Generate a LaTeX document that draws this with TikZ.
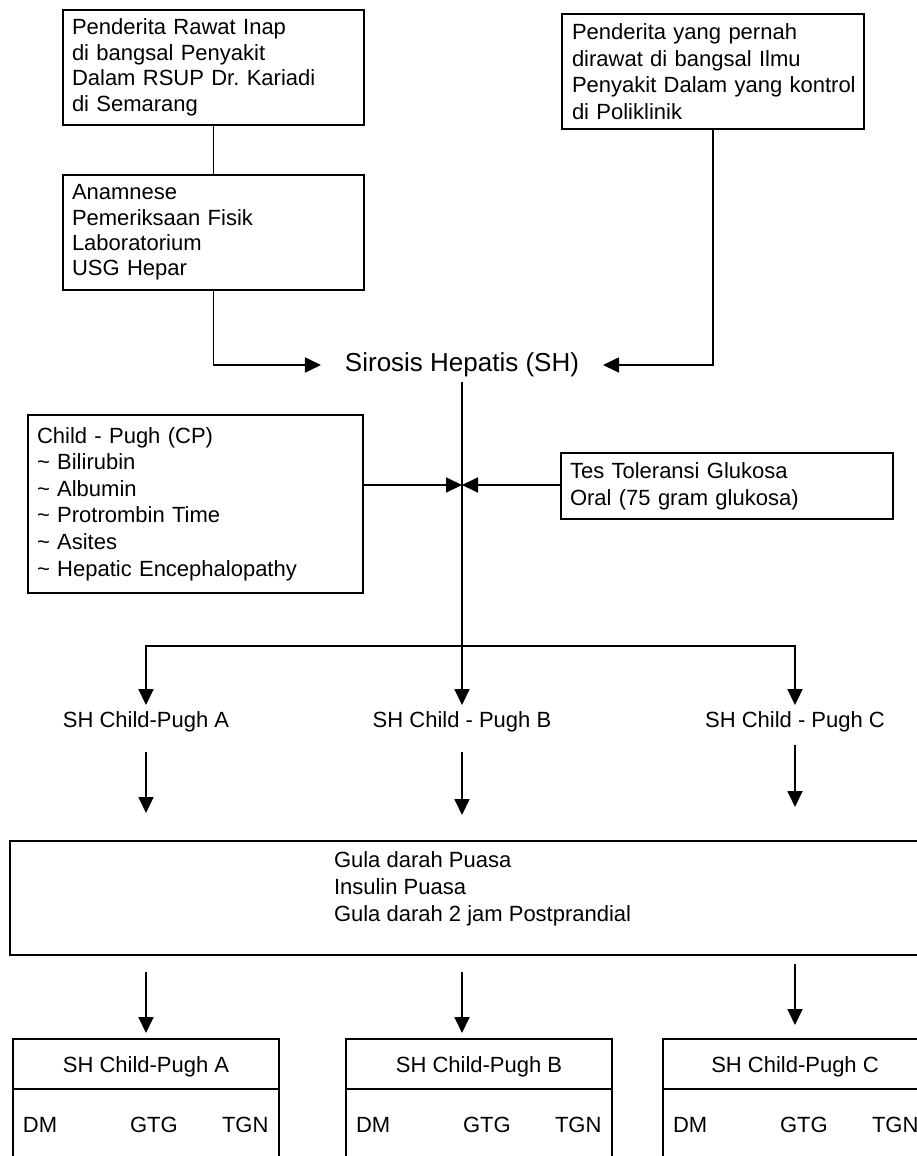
\documentclass[tikz,border=0pt]{standalone}
\usepackage{fontspec}
\setmainfont{Liberation Sans}
\usetikzlibrary{arrows.meta,calc}
\frenchspacing
\begin{document}
\begin{tikzpicture}[x=1pt,y=-1pt,line width=1.8pt,
  every node/.style={outer sep=0pt},
  txt/.style={font=\fontsize{22}{26}\selectfont},
  box/.style={draw, rectangle, anchor=north west, inner xsep=9pt, inner ysep=0pt, align=left, txt},
  frame/.style={draw, rectangle, anchor=north west, inner sep=0pt},
  arr/.style={-{Triangle[length=16pt,width=15pt]}},
  lab/.style={txt, inner sep=0pt, anchor=base},
]
\useasboundingbox (0,0) rectangle (917,1156);
\clip (0,0) rectangle (917,1156);

% --- sources of patients
\node[box, text width=283pt, minimum height=115pt, font=\fontsize{22}{25.6}\selectfont] (b1) at (63,10)
  {Penderita Rawat Inap\\ di bangsal Penyakit\\ Dalam RSUP Dr. Kariadi\\ di Semarang};
\node[box, text width=283pt, minimum height=115pt, font=\fontsize{22}{25.4}\selectfont] (b2) at (63,175)
  {Anamnese\\ Pemeriksaan Fisik\\ Laboratorium\\ USG Hepar};
\node[box, inner xsep=10pt, text width=282pt, minimum height=115pt, font=\fontsize{22}{26.5}\selectfont] (b3) at (562,14)
  {\mbox{Penderita yang pernah}\\ \mbox{dirawat di bangsal Ilmu}\\ \mbox{Penyakit Dalam yang kontrol}\\ \mbox{di Poliklinik}};

% --- diagnosis
\node[font=\fontsize{26}{30}\selectfont, inner sep=0pt] (sh) at (462,365) {Sirosis Hepatis (SH)};

\draw (b1) -- (b2);
\draw[arr, shorten >=24pt] (b2.south) |- (sh.west);
\draw[arr, shorten >=24pt] (b3.south) |- (sh.east);

% --- classification and glucose tolerance test
\node[box, text width=317pt, minimum height=178pt, font=\fontsize{22}{26.6}\selectfont] (cp) at (28,415)
  {Child - Pugh (CP)\\ \textasciitilde{} Bilirubin\\ \textasciitilde{} Albumin\\ \textasciitilde{} Protrombin Time\\ \textasciitilde{} Asites\\ \textasciitilde{} Hepatic Encephalopathy};
\node[box, text width=314pt, minimum height=66pt, font=\fontsize{22}{27}\selectfont] (tes) at (561,453)
  {Tes Toleransi Glukosa\\ Oral (75 gram glukosa)};

\coordinate (j) at (462,485);
\draw[arr] (cp.east |- j) -- (j);
\draw[arr] (tes.west |- j) -- (j);

% --- Child-Pugh groups
\node[lab] (la) at (146,727) {SH Child-Pugh A};
\node[lab] (lb) at (462,727) {SH Child - Pugh B};
\node[lab] (lc) at (795,727) {SH Child - Pugh C};

\coordinate (br) at (462,646);
\draw[arr, shorten <=5pt, shorten >=6pt] (sh.south) -- (lb.north);
\draw[arr, shorten >=6pt] (br) -| (la.north);
\draw[arr, shorten >=6pt] (br) -| (lc.north);

% --- measurements
\node[frame, minimum width=920pt, minimum height=114pt] (gula) at (10,841) {};
\node[txt, anchor=north west, inner sep=0pt, align=left, font=\fontsize{22}{27}\selectfont] (gt) at (334,852)
  {Gula darah Puasa\\ Insulin Puasa\\ Gula darah 2 jam Postprandial};

\draw[arr, shorten <=20pt, shorten >=28pt] (la.south) -- (la.south |- gula.north);
\draw[arr, shorten <=20pt, shorten >=26pt] (lb.south) -- (lb.south |- gula.north);
\draw[arr, shorten <=13pt, shorten >=34pt] (lc.south) -- (lc.south |- gula.north);

% --- outcome per group
\foreach \n/\x/\w/\t in {a/13/266/A, b/346/266/B, c/663/264/C} {
  \node[frame, minimum width=\w pt, minimum height=150pt] (res\n) at (\x,1039) {};
  \node[lab] (head\n) at ($(res\n.north)+(0,33)$) {SH Child-Pugh \t};
  \draw ($(res\n.north west)+(0,50)$) -- ($(res\n.north east)+(0,50)$);
  \node[lab, anchor=base west] (dm\n) at ($(res\n.north west)+(10,93)$) {DM};
  \node[lab, anchor=base west] (gtg\n) at ($(res\n.north west)+(117,93)$) {GTG};
  \node[lab, anchor=base west] (tgn\n) at ($(res\n.north west)+(209,93)$) {TGN};
}

\draw[arr, shorten <=17pt, shorten >=6pt] (la |- gula.south) -- (la |- resa.north);
\draw[arr, shorten <=17pt, shorten >=6pt] (lb |- gula.south) -- (lb |- resb.north);
\draw[arr, shorten <=9pt, shorten >=14pt] (lc |- gula.south) -- (lc |- resc.north);
\end{tikzpicture}
\end{document}
